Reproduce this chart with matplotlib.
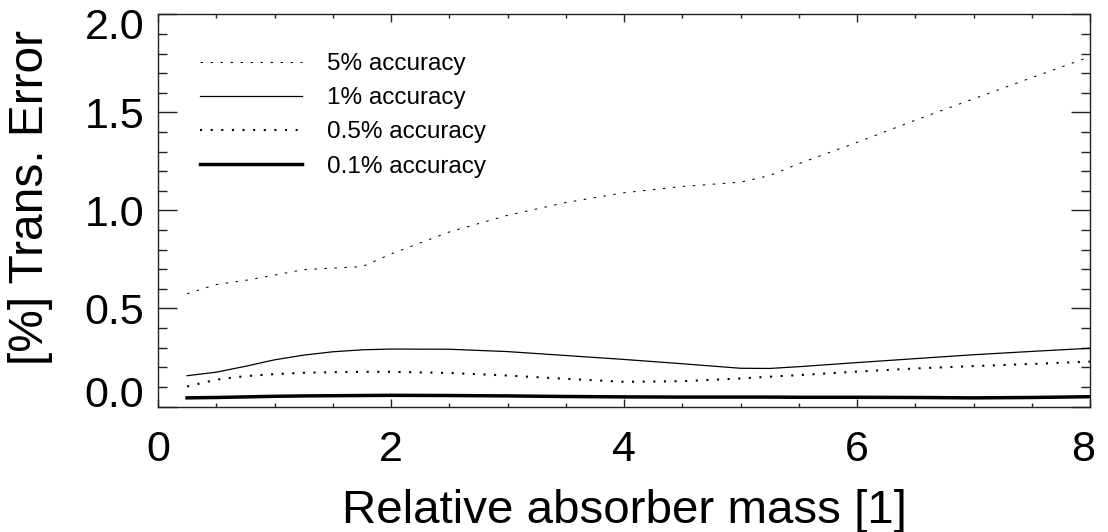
import matplotlib
matplotlib.use('Agg')
from matplotlib import pyplot as plt
from matplotlib.ticker import MultipleLocator
from matplotlib.transforms import ScaledTranslation
import numpy as np

plt.rcParams['font.family'] = ['Liberation Sans', 'DejaVu Sans']

# relative absorber mass
mass = [0.25, 0.5, 0.75, 1.0, 1.25, 1.5, 1.75, 2.0, 2.5, 3.0, 3.5, 4.0,
        4.5, 5.0, 5.25, 5.5, 6.0, 6.5, 7.0, 7.5, 8.0]

# transmission error [%] for each accuracy level
err_5 = [0.575, 0.622, 0.643, 0.670, 0.698, 0.706, 0.713, 0.778, 0.890, 0.975,
         1.040, 1.090, 1.122, 1.144, 1.178, 1.238, 1.347, 1.460, 1.569, 1.677,
         1.784]
err_1 = [0.157, 0.175, 0.205, 0.238, 0.262, 0.279, 0.289, 0.293, 0.292, 0.280,
         0.260, 0.240, 0.218, 0.195, 0.194, 0.203, 0.224, 0.244, 0.264, 0.281,
         0.297]
err_05 = [0.102, 0.137, 0.155, 0.165, 0.172, 0.175, 0.177, 0.177, 0.171, 0.158,
          0.141, 0.126, 0.129, 0.143, 0.152, 0.160, 0.178, 0.194, 0.206, 0.217,
          0.229]
err_01 = [0.044, 0.046, 0.049, 0.052, 0.054, 0.055, 0.056, 0.057, 0.056, 0.054,
          0.051, 0.049, 0.048, 0.048, 0.048, 0.047, 0.047, 0.046, 0.044, 0.046,
          0.050]

labels = ['5% accuracy', '1% accuracy', '0.5% accuracy', '0.1% accuracy']


def nudge(text, dx_px, dy_px, fig):
    # shift a tick label by a few pixels
    off = ScaledTranslation(dx_px / fig.dpi, dy_px / fig.dpi, fig.dpi_scale_trans)
    text.set_transform(text.get_transform() + off)


def main():
    fig = plt.figure(figsize=(11.08, 5.32), dpi=100)
    ax = fig.add_axes([0.1426, 0.2359, 0.8412, 0.7372])

    ax.plot(mass, err_5, color='black', lw=0.75, ls=(0, (2.4, 7.2)), label=labels[0])
    ax.plot(mass, err_1, color='black', lw=0.9, ls='-', label=labels[1])
    ax.plot(mass, err_05, color='black', lw=1.5, ls=(0, (1, 4.1)), label=labels[2])
    ax.plot(mass, err_01, color='black', lw=2.5, ls='-', label=labels[3])

    ax.set_xlim(0, 8)
    ax.set_ylim(0, 2.0)
    ax.set_xticks([0, 2, 4, 6, 8])
    ax.set_yticks([0.0, 0.5, 1.0, 1.5, 2.0])
    ax.set_yticklabels(['0.0', '0.5', '1.0', '1.5', '2.0'])
    ax.xaxis.set_minor_locator(MultipleLocator(0.5))
    ax.yaxis.set_minor_locator(MultipleLocator(0.1))

    ax.tick_params(axis='both', which='both', direction='in',
                   top=True, right=True, color='#222222', width=1.0)
    ax.tick_params(axis='x', which='major', length=5.8, pad=17, labelsize=31)
    ax.tick_params(axis='x', which='minor', length=2.9)
    ax.tick_params(axis='y', which='major', length=13.7, pad=10, labelsize=31)
    ax.tick_params(axis='y', which='minor', length=6.8)
    for sp in ax.spines.values():
        sp.set_color('#222222')
        sp.set_linewidth(1.0)

    ylab = ax.get_yticklabels()
    ylab[0].set_verticalalignment('baseline')
    nudge(ylab[-1], 0, -9, fig)
    xlab = ax.get_xticklabels()
    nudge(xlab[-1], -7, 0, fig)

    ax.set_xlabel('Relative absorber mass [1]', fontsize=34.2)
    ax.xaxis.set_label_coords(0.5, -0.21)
    ax.set_ylabel('[%] Trans. Error', fontsize=34.5)
    ax.yaxis.set_label_coords(-0.1127, 0.532)

    ax.legend(loc='upper left', bbox_to_anchor=(0.035, 0.926), frameon=False,
              fontsize=17.5, handlelength=4.2, handletextpad=1.0,
              labelspacing=0.5, borderaxespad=0)

    fig.savefig('out.png', dpi=100)


if __name__ == "__main__":
    main()
